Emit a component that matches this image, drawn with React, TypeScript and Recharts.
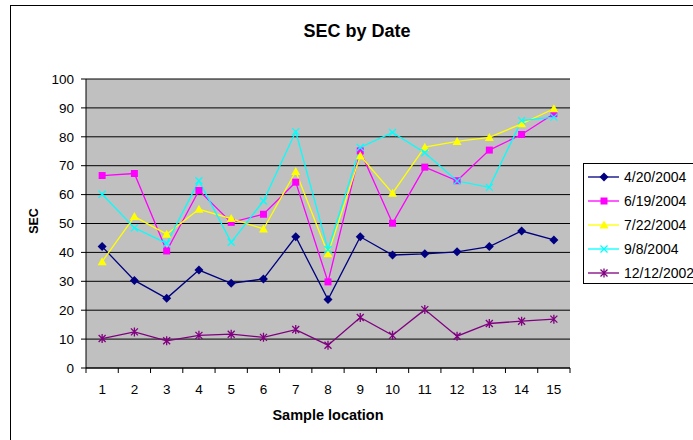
import React from "react";
import { LineChart, Line, XAxis, YAxis, CartesianGrid, Legend } from "recharts";

const locations = [1, 2, 3, 4, 5, 6, 7, 8, 9, 10, 11, 12, 13, 14, 15];
const apr2004 = [42.0, 30.3, 24.1, 33.9, 29.3, 30.8, 45.4, 23.7, 45.4, 39.1, 39.5, 40.2, 42.0, 47.4, 44.3];
const jun2004 = [66.6, 67.3, 40.5, 61.4, 50.4, 53.2, 64.3, 29.8, 75.1, 50.1, 69.5, 64.8, 75.4, 80.8, 88.0];
const jul2004 = [36.8, 52.4, 46.3, 54.9, 51.7, 48.1, 68.0, 39.5, 73.4, 60.5, 76.4, 78.4, 79.8, 84.5, 89.7];
const sep2004 = [60.1, 48.5, 43.1, 64.8, 43.5, 57.8, 81.8, 41.0, 76.3, 81.5, 74.5, 64.7, 62.5, 85.6, 86.8];
const dec2002 = [10.2, 12.5, 9.4, 11.3, 11.7, 10.6, 13.3, 7.9, 17.5, 11.3, 20.2, 11.0, 15.4, 16.2, 16.9];
const yTicks = [0, 10, 20, 30, 40, 50, 60, 70, 80, 90, 100];

const series = [
  { key: "apr", name: "4/20/2004", color: "#000080", shape: "diamond" },
  { key: "jun", name: "6/19/2004", color: "#FF00FF", shape: "square" },
  { key: "jul", name: "7/22/2004", color: "#FFFF00", shape: "triangle" },
  { key: "sep", name: "9/8/2004", color: "#00FFFF", shape: "x" },
  { key: "dec", name: "12/12/2002", color: "#800080", shape: "star" },
];

const data = locations.map((loc, i) => ({
  loc,
  apr: apr2004[i],
  jun: jun2004[i],
  jul: jul2004[i],
  sep: sep2004[i],
  dec: dec2002[i],
}));

const FONT = "Arial, 'Liberation Sans', sans-serif";
const W = 693;
const H = 440;
const LEFT = 86;
const RIGHT = 123;
const BAND = (W - LEFT - RIGHT) / locations.length;

function Marker({ cx, cy, shape, color }: any) {
  if (cx == null || cy == null) return null;
  switch (shape) {
    case "diamond":
      return <path d={`M${cx},${cy - 4.5}L${cx + 4.5},${cy}L${cx},${cy + 4.5}L${cx - 4.5},${cy}Z`} fill={color} />;
    case "square":
      return <rect x={cx - 3.5} y={cy - 3.5} width={7} height={7} fill={color} />;
    case "triangle":
      return <path d={`M${cx},${cy - 4.5}L${cx + 4.5},${cy + 3.5}L${cx - 4.5},${cy + 3.5}Z`} fill={color} />;
    case "x":
      return (
        <path d={`M${cx - 3.5},${cy - 3.5}L${cx + 3.5},${cy + 3.5}M${cx - 3.5},${cy + 3.5}L${cx + 3.5},${cy - 3.5}`} stroke={color} strokeWidth={1.3} />
      );
    case "star":
      return (
        <path
          d={`M${cx - 3.5},${cy - 3.5}L${cx + 3.5},${cy + 3.5}M${cx - 3.5},${cy + 3.5}L${cx + 3.5},${cy - 3.5}M${cx},${cy - 4.5}L${cx},${cy + 4.5}`}
          stroke={color}
          strokeWidth={1.3}
        />
      );
    default:
      return null;
  }
}

function XTick({ x, y, payload, index }: any) {
  const half = BAND / 2;
  return (
    <g>
      <line x1={x - half} x2={x - half} y1={y} y2={y + 5} stroke="#000" />
      {index === locations.length - 1 && <line x1={x + half} x2={x + half} y1={y} y2={y + 5} stroke="#000" />}
      <text x={x} y={y + 26} textAnchor="middle" fontSize={13.5} fontFamily={FONT} fill="#000">
        {payload.value}
      </text>
    </g>
  );
}

// legend keeps the series order of the source chart
function LegendBox() {
  return (
    <div
      style={{
        border: "1px solid #000",
        background: "#fff",
        padding: "1px 0 0 4px",
        height: 121,
        boxSizing: "border-box",
        fontFamily: FONT,
        fontSize: 14,
        color: "#000",
      }}
    >
      {series.map((s) => (
        <div key={s.key} style={{ display: "flex", alignItems: "center", height: 24, whiteSpace: "nowrap" }}>
          <svg width={36} height={12} style={{ flex: "none" }}>
            <line x1={0} x2={31} y1={6} y2={6} stroke={s.color} strokeWidth={1.3} />
            <Marker cx={16} cy={6} shape={s.shape} color={s.color} />
          </svg>
          <span>{s.name}</span>
        </div>
      ))}
    </div>
  );
}

export default function App() {
  return (
    <div style={{ position: "absolute", left: 0, top: 0, width: W, height: H, overflow: "hidden", background: "#fff" }}>
      <div
        style={{
          position: "absolute",
          left: 10,
          top: 5,
          width: W,
          height: H,
          borderLeft: "1px solid #000",
          borderTop: "1px solid #000",
        }}
      />
      <LineChart width={W} height={H} data={data} margin={{ top: 79, right: RIGHT, bottom: 0, left: 0 }}>
        <CartesianGrid vertical={false} stroke="#000" fill="#C0C0C0" fillOpacity={1} />
        <XAxis
          dataKey="loc"
          type="category"
          padding={{ left: BAND / 2, right: BAND / 2 }}
          height={72}
          axisLine={{ stroke: "#000" }}
          tickLine={false}
          tickSize={0}
          tickMargin={0}
          interval={0}
          tick={<XTick />}
        />
        <YAxis
          domain={[0, 100]}
          ticks={yTicks}
          width={LEFT}
          interval={0}
          axisLine={{ stroke: "#000" }}
          tickLine={{ stroke: "#000" }}
          tickSize={5}
          tickMargin={7}
          tick={{ fill: "#000", fontSize: 13.5, fontFamily: FONT }}
        />
        <YAxis
          yAxisId="frame"
          orientation="right"
          domain={[0, 100]}
          width={0}
          tick={false}
          tickLine={false}
          axisLine={{ stroke: "#808080" }}
        />
        <Legend
          layout="vertical"
          align="center"
          verticalAlign="middle"
          content={<LegendBox />}
          wrapperStyle={{ position: "absolute", left: 583, top: 163, width: 120, height: 121 }}
        />
        {series.map((s) => (
          <Line
            key={s.key}
            type="linear"
            dataKey={s.key}
            name={s.name}
            stroke={s.color}
            strokeWidth={1.3}
            activeDot={false}
            isAnimationActive={false}
            dot={(p: any) => (
              <g key={`${s.key}-${p.index}`}>
                <Marker cx={p.cx} cy={p.cy} shape={s.shape} color={s.color} />
              </g>
            )}
          />
        ))}
      </LineChart>
      <svg width={W} height={H} style={{ position: "absolute", left: 0, top: 0, pointerEvents: "none" }}>
        <text x={357} y={37} textAnchor="middle" fontFamily={FONT} fontWeight="bold" fontSize={18}>
          SEC by Date
        </text>
        <text x={328} y={420} textAnchor="middle" fontFamily={FONT} fontWeight="bold" fontSize={14.5}>
          Sample location
        </text>
        <text
          x={38}
          y={221}
          textAnchor="middle"
          transform="rotate(-90 38 221)"
          fontFamily={FONT}
          fontWeight="bold"
          fontSize={12.5}
        >
          SEC
        </text>
      </svg>
    </div>
  );
}
